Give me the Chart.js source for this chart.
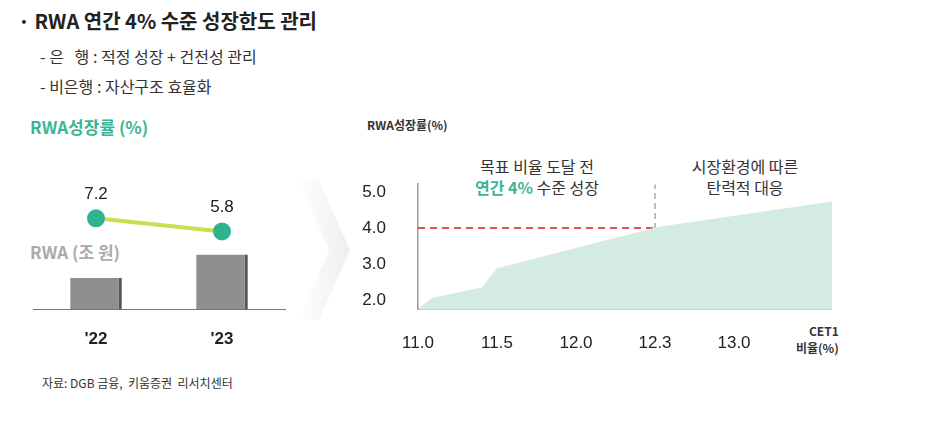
<!DOCTYPE html>
<html><head><meta charset="utf-8">
<script src="https://cdn.jsdelivr.net/npm/chart.js@4"></script>
<style>
body{margin:0;width:927px;height:427px;background:#fff;font-family:"Noto Sans CJK KR","Noto Sans",sans-serif;position:relative;overflow:hidden;color:#222}
.t{position:absolute;white-space:nowrap}
canvas{position:absolute}
</style></head><body>
<div class="t" style="left:18px;top:6px;font-size:20px;font-weight:700">· RWA 연간 4% 수준 성장한도 관리</div>
<div class="t" style="left:40px;top:44px;font-size:16px;color:#333">- 은&nbsp;&nbsp;&nbsp;행 : 적정 성장 + 건전성 관리</div>
<div class="t" style="left:40px;top:74px;font-size:16px;color:#333">- 비은행 : 자산구조 효율화</div>
<div class="t" style="left:30px;top:114px;font-size:17px;font-weight:700;color:#3bb594">RWA성장률 (%)</div>
<div class="t" style="left:30px;top:239px;font-size:17px;font-weight:700;color:#aaa">RWA (조 원)</div>
<div style="position:absolute;left:298px;top:180px;width:52px;height:140px;background:linear-gradient(90deg,#fff,#eee);clip-path:polygon(0 0,40% 0,100% 50%,40% 100%,0 100%,60% 50%)"></div>
<div class="t" style="left:367px;top:116px;font-size:12px;font-weight:700;color:#333">RWA성장률(%)</div>
<div class="t" style="left:796px;top:322px;font-size:12px;font-weight:700;color:#333;text-align:right;line-height:17px">&nbsp;&nbsp;CET1<br>비율(%)</div>
<div class="t" style="left:537px;top:156px;transform:translateX(-50%);font-size:16px;color:#333;text-align:center;line-height:21px">목표 비율 도달 전<br><b style="color:#3bb594">연간 4%</b> 수준 성장</div>
<div class="t" style="left:745px;top:156px;transform:translateX(-50%);font-size:16px;color:#333;text-align:center;line-height:21px">시장환경에 따른<br>탄력적 대응</div>
<div class="t" style="left:42px;top:374px;font-size:12px;color:#333">자료: DGB 금융,&nbsp; 키움증권&nbsp; 리서치센터</div>
<canvas id="left" width="274" height="215" style="left:22px;top:140px;width:274px;height:215px"></canvas>
<canvas id="right" width="492" height="219" style="left:340px;top:150px;width:492px;height:219px"></canvas>
<script>
const years = ["'22", "'23"];
const rwa = [41.6, 44.0];
const rwaGrowth = [7.2, 5.8];

const cetTicks = ['11.0', '11.5', '12.0', '12.3', '13.0'];
const curveX = [0, 0.18, 0.81, 1.0, 3.03, 5.24];
const curveY = [1.75, 2.06, 2.35, 2.88, 4.03, 4.74];
const targetGrowth = 4.0;
const targetTick = 3;

const labelPlugin = {
  id: 'labels',
  afterDatasetsDraw(chart) {
    const ctx = chart.ctx;
    ctx.save();
    ctx.textAlign = 'center';
    ctx.textBaseline = 'middle';
    chart.getDatasetMeta(0).data.forEach((b, i) => {
      ctx.font = 'bold 18px "Liberation Sans", Arial';
      ctx.fillStyle = '#fff';
      ctx.fillText(rwa[i].toFixed(1), b.x - 2, (b.y + b.base) / 2 - 1);
    });
    chart.getDatasetMeta(1).data.forEach((p, i) => {
      ctx.font = '17px "Liberation Sans", Arial';
      ctx.fillStyle = '#222';
      ctx.fillText(rwaGrowth[i].toFixed(1), p.x, p.y - 24);
    });
    ctx.restore();
  }
};

new Chart(document.getElementById('left'), {
  data: {
    labels: years,
    datasets: [
      {
        type: 'bar', data: rwa, yAxisID: 'y',
        backgroundColor: '#8f8f8f', borderColor: '#555',
        borderWidth: {top: 0, left: 0, right: 3, bottom: 5}, borderSkipped: false,
        barPercentage: 0.41, categoryPercentage: 1, order: 2
      },
      {
        type: 'line', data: rwaGrowth, yAxisID: 'y2',
        borderColor: '#cddc50', borderWidth: 4,
        pointRadius: 7, pointBackgroundColor: '#2fb38f', pointBorderColor: '#2fb38f', order: 1
      }
    ]
  },
  options: {
    responsive: false, animation: false,
    layout: {padding: 0},
    plugins: {legend: {display: false}, tooltip: {enabled: false}},
    scales: {
      x: {
        grid: {display: false}, border: {color: '#777', width: 1},
        ticks: {color: '#222', font: {size: 17, weight: 'bold', family: '"Liberation Sans", Arial'}, padding: 12},
        afterFit(s) { s.height = 46; }
      },
      y: {display: false, min: 38.4, max: 54.65},
      y2: {display: false, min: -2.5, max: 14.4}
    }
  },
  plugins: [labelPlugin]
});

new Chart(document.getElementById('right'), {
  type: 'line',
  data: {
    datasets: [
      {
        data: curveX.map((x, i) => ({x, y: curveY[i]})),
        fill: 'start', backgroundColor: '#d3ebe1', borderWidth: 0, pointRadius: 0, tension: 0
      },
      {
        data: [{x: 0, y: targetGrowth}, {x: 5.24, y: targetGrowth}],
        borderColor: '#e0141e', borderWidth: 1.5, borderDash: [7, 5], pointRadius: 0
      },
      {
        data: [{x: targetTick, y: 1.75}, {x: targetTick, y: 5.22}],
        borderColor: '#aaa', borderWidth: 1.5, borderDash: [6, 4], pointRadius: 0
      }
    ]
  },
  options: {
    responsive: false, animation: false,
    layout: {padding: {top: 3, right: 0}},
    plugins: {legend: {display: false}, tooltip: {enabled: false}},
    scales: {
      x: {
        type: 'linear', min: 0, max: 5.24,
        grid: {display: false}, border: {color: '#999', width: 1.5},
        afterBuildTicks(s) { s.ticks = cetTicks.map((t, i) => ({value: i})); },
        ticks: {color: '#222', padding: 16, font: {size: 17, family: '"Liberation Sans", Arial'},
          callback: (v, i) => cetTicks[i]},
        afterFit(s) { s.height = 60; }
      },
      y: {
        min: 1.75, max: 5.22,
        grid: {display: false}, border: {color: '#999', width: 1.5},
        afterBuildTicks(s) { s.ticks = [2, 3, 4, 5].map(v => ({value: v})); },
        ticks: {color: '#222', padding: 24, font: {size: 17, family: '"Liberation Sans", Arial'},
          callback: v => v.toFixed(1)},
        afterFit(s) { s.width = 78; }
      }
    }
  }
});
</script>
</body></html>
